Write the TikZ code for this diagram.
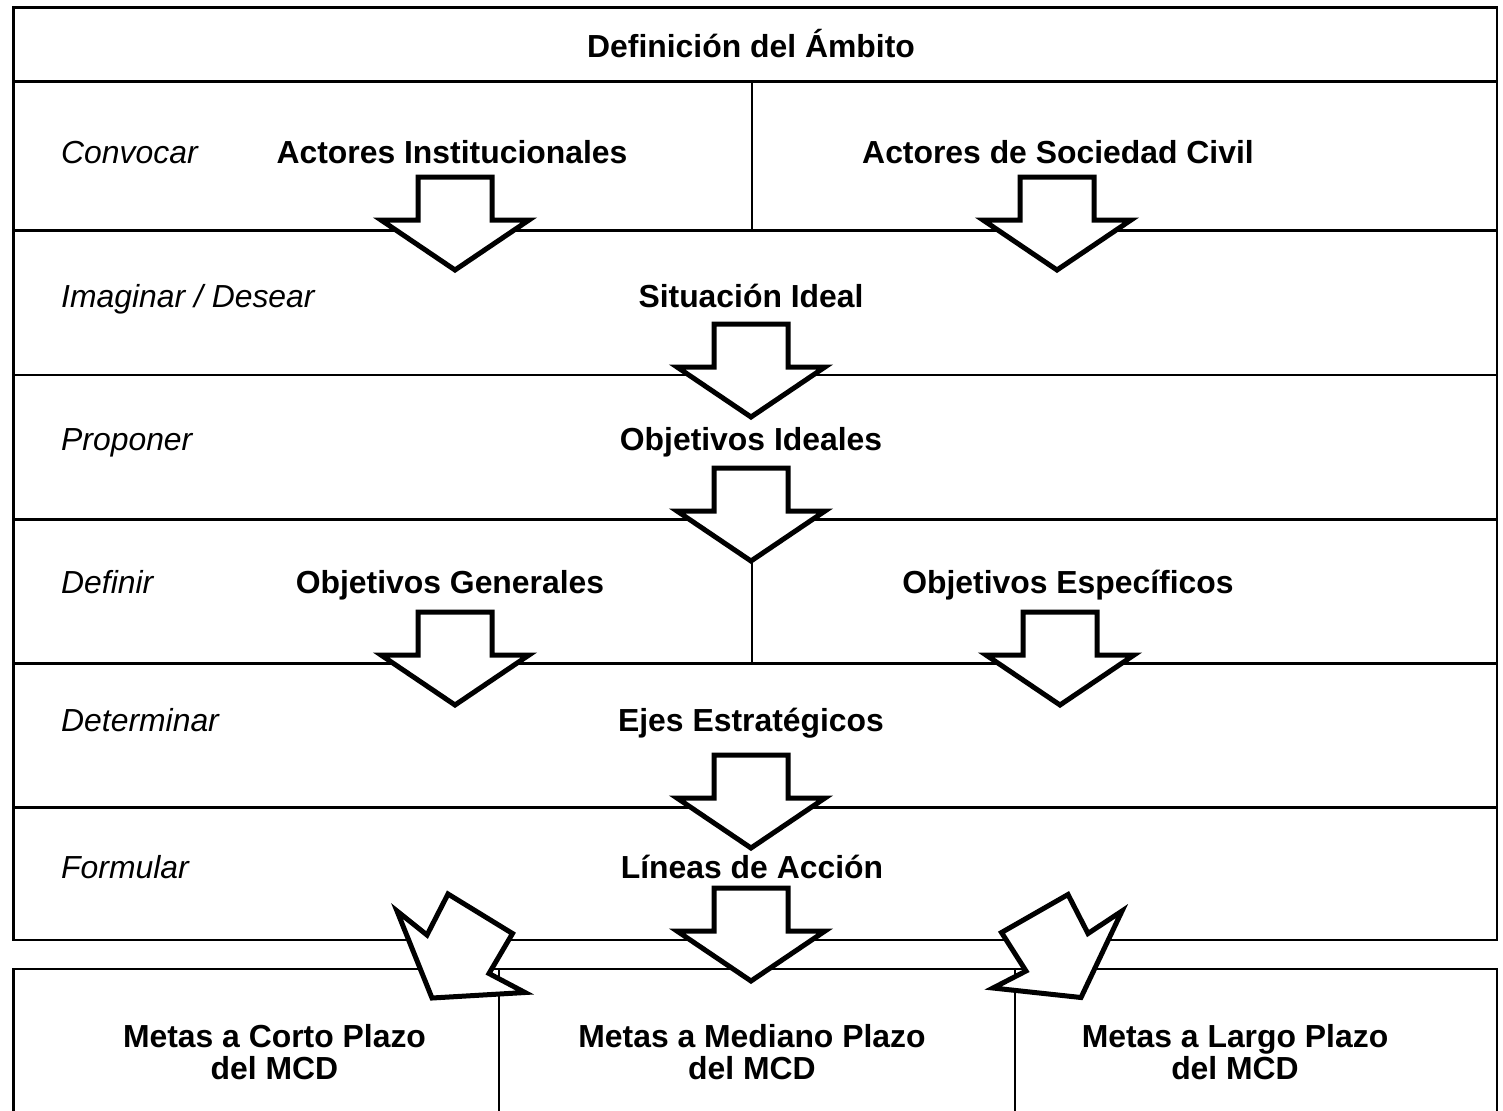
\documentclass[tikz,border=0pt]{standalone}
\usepackage{fontspec}
\setmainfont{Liberation Sans}
\begin{document}
\begin{tikzpicture}[x=1bp,y=-1bp]
\tikzset{
 frame/.style={line width=2.4bp},
 blk/.style={draw, line width=5bp, fill=white, line join=miter, miter limit=10},
 ttl/.style={font=\fontsize{32}{36}\selectfont\bfseries, inner sep=0, anchor=base},
 verb/.style={font=\fontsize{32}{36}\selectfont\itshape, inner sep=0, anchor=base west},
}
\newcommand\blockarrow[2]{%
 \draw[blk] (#1-37,#2) -- (#1+37,#2) -- (#1+37,#2+43) -- (#1+74,#2+43) -- (#1,#2+93) -- (#1-74,#2+43) -- (#1-37,#2+43) -- cycle;}
\useasboundingbox (0,0) rectangle (1503,1110);
\clip (0,0) rectangle (1503,1110);
% frames
\draw[frame] (13.5,7.5) rectangle (1497,940);
\foreach \yy in {81.5,230.5,375,519.5,663.5,807.5} \draw[frame] (13.5,\yy) -- (1497,\yy);
\draw[frame] (752,81.5) -- (752,230.5);
\draw[frame] (752,519.5) -- (752,663.5);
\draw[frame] (13.5,969) rectangle (1497,1130);
\draw[frame] (499,969) -- (499,1130);
\draw[frame] (1015,969) -- (1015,1130);
% block arrows
\blockarrow{455}{177}
\blockarrow{1057}{177}
\blockarrow{751}{324}
\blockarrow{751}{468}
\blockarrow{455}{612}
\blockarrow{1060}{612}
\blockarrow{751}{755}
\blockarrow{751}{888}
\draw[blk] (397,911) -- (427,935) -- (448,894) -- (512.5,933.5) -- (489,973.5) -- (525,992.5) -- (432,998) -- cycle;
\draw[blk] (993,988) -- (1026,971) -- (1001.5,932.5) -- (1068,894.5) -- (1088,933.5) -- (1122,911) -- (1081,997.5) -- cycle;
% texts
\node[ttl] (amb) at (751,57) {Definición del Ámbito};
\node[verb] (v1) at (61,163.5) {Convocar};
\node[ttl] (ai) at (452,163.5) {Actores Institucionales};
\node[ttl] (asc) at (1058,163.5) {Actores de Sociedad Civil};
\node[verb] (v2) at (61,307) {Imaginar / Desear};
\node[ttl] (si) at (751,307) {Situación Ideal};
\node[verb] (v3) at (61,450) {Proponer};
\node[ttl] (oi) at (751,450) {Objetivos Ideales};
\node[verb] (v4) at (61,593) {Definir};
\node[ttl] (og) at (450,593) {Objetivos Generales};
\node[ttl] (oe) at (1068,593) {Objetivos Específicos};
\node[verb] (v5) at (61,731) {Determinar};
\node[ttl] (ee) at (751,731) {Ejes Estratégicos};
\node[verb] (v6) at (61,878) {Formular};
\node[ttl] (la) at (752,878) {Líneas de Acción};
\node[ttl] (mc1) at (274.5,1047.5) {Metas a Corto Plazo};
\node[ttl] (mc2) at (274.5,1079) {del MCD};
\node[ttl] (mm1) at (752,1047.5) {Metas a Mediano Plazo};
\node[ttl] (mm2) at (752,1079) {del MCD};
\node[ttl] (ml1) at (1235,1047.5) {Metas a Largo Plazo};
\node[ttl] (ml2) at (1235,1079) {del MCD};
\end{tikzpicture}
\end{document}
